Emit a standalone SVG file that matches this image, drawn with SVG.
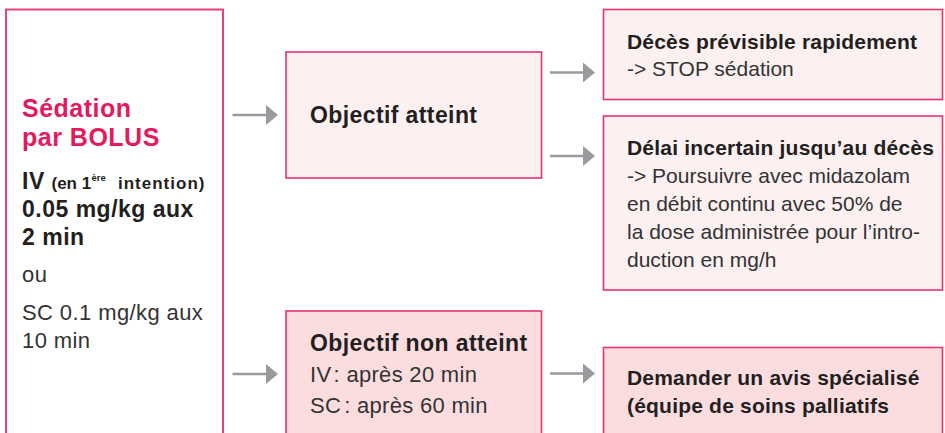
<svg xmlns="http://www.w3.org/2000/svg" width="945" height="433" viewBox="0 0 945 433">
<style>
text{font-family:"Liberation Sans",Arial,sans-serif}
.title{font-weight:bold;font-size:25px;fill:#e5195e;letter-spacing:0.5px}
.lb{font-weight:bold;font-size:23px;fill:#231f20;letter-spacing:0.5px}
.sm{font-size:17px}
.sup{font-size:9.5px;letter-spacing:0}
.lr{font-size:22px;fill:#333;letter-spacing:0.4px}
.nb{font-weight:bold;font-size:23px;fill:#231f20;letter-spacing:0.4px}
.rb{font-weight:bold;font-size:21px;fill:#231f20;letter-spacing:0.2px}
.rr{font-size:21px;fill:#333}
.mr{font-size:22px;fill:#333;letter-spacing:0.3px}
.box{stroke:#e8336e;stroke-width:1.6}
.light{fill:#fcf0f1}
.dark{fill:#fbdde0}
.arrow{stroke:#9a9a9e;stroke-width:2.7;fill:none;marker-end:url(#ah)}
</style>
<defs>
<marker id="ah" markerUnits="userSpaceOnUse" markerWidth="12" markerHeight="20" viewBox="0 0 12 20" refX="1" refY="10" orient="auto">
<path d="M0,0 L12,10 L0,20 Z" fill="#9a9a9e"/>
</marker>
</defs>
<g id="sedation">
<rect x="6" y="9.5" width="217" height="450" fill="#fff" stroke="#e8407a" stroke-width="2"/>
<text class="title" x="22" y="117">Sédation</text>
<text class="title" x="22" y="145.5">par BOLUS</text>
<text class="lb" x="22" y="188.5">IV<tspan class="sm" x="51.5" style="letter-spacing:0">(en 1</tspan><tspan class="sup" x="91.5" y="181">ère</tspan><tspan class="sm" x="118" y="188.5" style="letter-spacing:1px">intention)</tspan></text>
<text class="lb" x="22" y="216.5">0.05 mg/kg aux</text>
<text class="lb" x="22" y="244.5">2 min</text>
<text class="lr" x="22" y="281.5">ou</text>
<text class="lr" x="22" y="320">SC 0.1 mg/kg aux</text>
<text class="lr" x="22" y="348">10 min</text>
</g>
<g id="objectif-atteint">
<rect class="box light" x="286" y="52" width="255.5" height="126"/>
<text class="nb" x="310" y="123">Objectif atteint</text>
</g>
<g id="deces-previsible">
<rect class="box light" x="603.5" y="9.5" width="339" height="90"/>
<text class="rb" x="627" y="48.5">Décès prévisible rapidement</text>
<text class="rr" x="627" y="76">-&gt; STOP sédation</text>
</g>
<g id="delai-incertain">
<rect class="box light" x="603.5" y="116" width="339" height="174"/>
<text class="rb" x="627" y="154.5">Délai incertain jusqu’au décès</text>
<text class="rr" x="627" y="182.5">-&gt; Poursuivre avec midazolam</text>
<text class="rr" x="627" y="210.5">en débit continu avec 50% de</text>
<text class="rr" x="627" y="238.5">la dose administrée pour l’intro-</text>
<text class="rr" x="627" y="266.5">duction en mg/h</text>
</g>
<g id="objectif-non-atteint">
<rect class="box dark" x="286" y="311" width="255.5" height="150"/>
<text class="nb" x="310" y="351">Objectif non atteint</text>
<text class="mr" x="310" y="382">IV<tspan dx="3">:</tspan> après 20 min</text>
<text class="mr" x="310" y="413">SC<tspan dx="3">:</tspan> après 60 min</text>
</g>
<g id="avis-specialise">
<rect class="box dark" x="603.5" y="347.5" width="339" height="120"/>
<text class="rb" x="627" y="384.5">Demander un avis spécialisé</text>
<text class="rb" x="627" y="412.5">(équipe de soins palliatifs</text>
</g>
<g id="connectors">
<path class="arrow" d="M232.5,115 H267"/>
<path class="arrow" d="M232.5,374 H267"/>
<path class="arrow" d="M550,72.5 H584"/>
<path class="arrow" d="M550,156 H584"/>
<path class="arrow" d="M550,373.5 H584"/>
</g>
</svg>
